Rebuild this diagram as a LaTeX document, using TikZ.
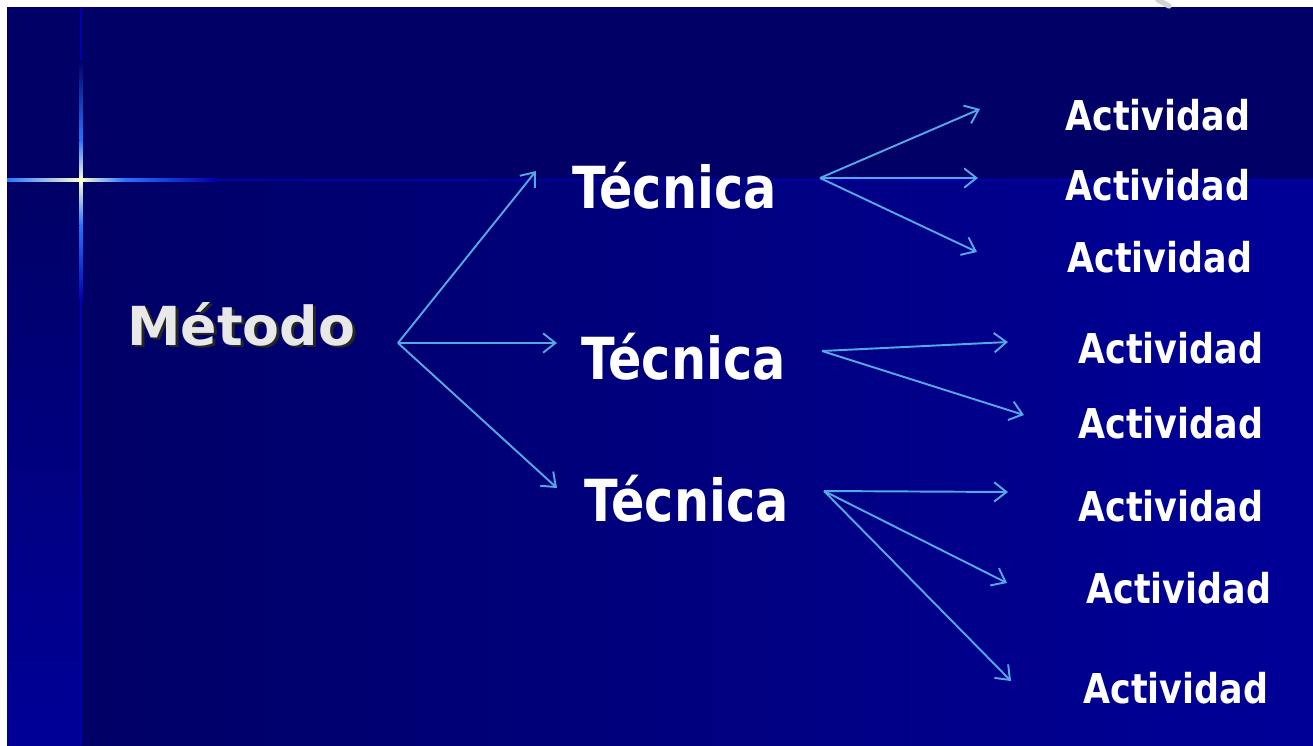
\documentclass[tikz,border=0pt]{standalone}
\usepackage{fontspec}
\setmainfont{DejaVu Sans}[FakeStretch=0.85]
\newfontfamily\metodofont{DejaVu Sans}
\usetikzlibrary{arrows.meta,positioning,calc}

\definecolor{navydark}{RGB}{0,0,102}
\definecolor{navylight}{RGB}{0,0,152}
\definecolor{lineblue}{RGB}{0,0,175}
\definecolor{glowblue}{RGB}{40,115,255}
\definecolor{starwhite}{RGB}{255,255,205}
\definecolor{arrowblue}{RGB}{84,168,228}
\definecolor{metodogray}{RGB}{232,232,232}

\newcommand{\shadowtext}[1]{\rlap{\hspace{1.7pt}\raisebox{-1.7pt}{\color{black!85}#1}}#1}

\begin{document}
\begin{tikzpicture}[
    x=0.02cm, y=-0.02cm,
    method/.style={font=\metodofont\bfseries\fontsize{30.6}{36}\selectfont, text=metodogray, inner sep=0pt, anchor=base west},
    technique/.style={font=\bfseries\fontsize{33}{38}\selectfont, text=white, inner sep=0pt, anchor=base west},
    activity/.style={font=\bfseries\fontsize{23.4}{28}\selectfont, text=white, inner sep=0pt, anchor=base west},
    arrow/.style={-{Straight Barb[length=7pt,width=11pt]}, draw=arrowblue, line width=1.1pt}
]
\useasboundingbox (0,0) rectangle (1313,745);

% Background panels
\fill[white] (0,0) rectangle (1313,745);
\fill[navydark] (7,7) rectangle (1313,180);
\shade[left color=navydark, right color=navylight] (81,180) rectangle (1313,745);
\shade[top color=navydark, bottom color=navylight] (7,180) rectangle (81,745);
\draw[lineblue, line width=1.6pt] (81,7) -- (81,745);
\draw[lineblue, line width=0.8pt] (7,180) -- (1313,180);
\draw[gray!35, line width=3pt, line cap=round] (1158,0) -- (1169,6);

% Star glow at the crossing
\shade[top color=navydark, bottom color=glowblue] (79.5,60) rectangle (82.5,140);
\shade[top color=glowblue, bottom color=starwhite] (79.5,140) rectangle (82.5,180);
\shade[top color=starwhite, bottom color=glowblue] (79.5,180) rectangle (82.5,225);
\shade[top color=glowblue, bottom color=lineblue] (79.5,225) rectangle (82.5,300);
\shade[left color=glowblue, right color=starwhite] (7,178.6) rectangle (81,181.4);
\shade[left color=starwhite, right color=glowblue] (81,178.6) rectangle (125,181.4);
\shade[left color=glowblue, right color=lineblue] (125,178.6) rectangle (215,181.4);

% Method
\node[method] (metodo) at (127,345) {\shadowtext{Método}};

% Techniques
\node[technique] (tec1) at (572,208) {Técnica};
\node[technique] (tec2) at (581,379) {Técnica};
\node[technique] (tec3) at (584,521) {Técnica};

% Activities
\node[activity] (act1) at (1065,130) {Actividad};
\node[activity] (act2) at (1065,200) {Actividad};
\node[activity] (act3) at (1067,272) {Actividad};
\node[activity] (act4) at (1078,363) {Actividad};
\node[activity] (act5) at (1078,438) {Actividad};
\node[activity] (act6) at (1078,521) {Actividad};
\node[activity] (act7) at (1086,603) {Actividad};
\node[activity] (act8) at (1083,703) {Actividad};

% Fork points and arrow tips
\coordinate (mFork) at (398,343);
\coordinate (t1Fork) at (820,178);
\coordinate (t2Fork) at (822,351);
\coordinate (t3Fork) at (824,491);
\coordinate (tec1In) at (536,171);
\coordinate (tec2In) at (557,343);
\coordinate (tec3In) at (557,488);
\coordinate (act1In) at (980,109);
\coordinate (act2In) at (978,178);
\coordinate (act3In) at (977,252);
\coordinate (act4In) at (1008,342);
\coordinate (act5In) at (1024,415);
\coordinate (act6In) at (1008,492);
\coordinate (act7In) at (1007,583);
\coordinate (act8In) at (1011,681);

% Method -> techniques
\draw[arrow] (mFork) -- (tec1In);
\draw[arrow] (mFork) -- (tec2In);
\draw[arrow] (mFork) -- (tec3In);

% Techniques -> activities
\draw[arrow] (t1Fork) -- (act1In);
\draw[arrow] (t1Fork) -- (act2In);
\draw[arrow] (t1Fork) -- (act3In);
\draw[arrow] (t2Fork) -- (act4In);
\draw[arrow] (t2Fork) -- (act5In);
\draw[arrow] (t3Fork) -- (act6In);
\draw[arrow] (t3Fork) -- (act7In);
\draw[arrow] (t3Fork) -- (act8In);

\end{tikzpicture}
\end{document}
